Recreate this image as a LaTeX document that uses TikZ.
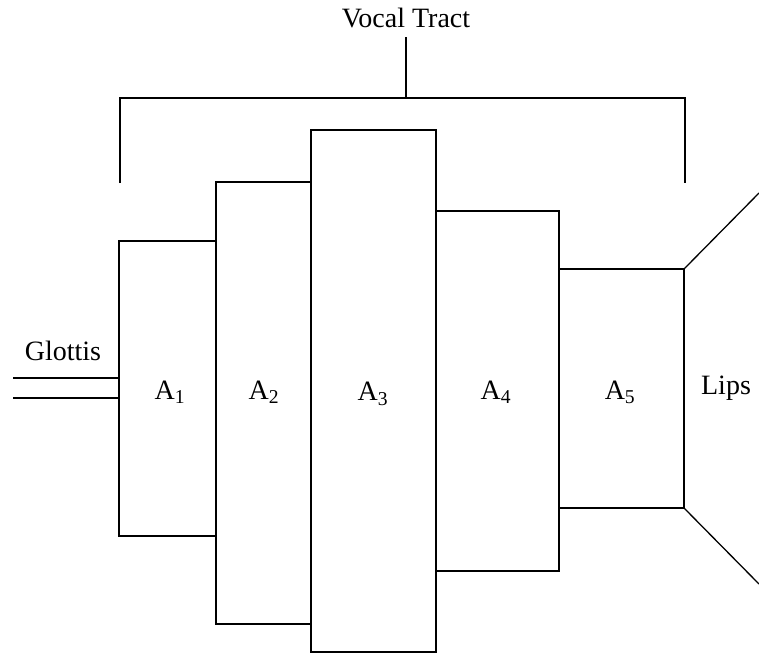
\documentclass[tikz,border=0pt]{standalone}
\usepackage{fontspec}
\setmainfont{Liberation Serif}
\begin{document}
\begin{tikzpicture}[x=1pt,y=-1pt,line width=1.3pt,
  lbl/.style={inner sep=0pt,font=\fontsize{28}{32}\selectfont}]
\useasboundingbox (0,0) rectangle (759,654);
% tube sections
\draw (119,241) rectangle (216,536);
\draw (216,182) rectangle (311,624);
\draw (311,130) rectangle (436,652);
\draw (436,211) rectangle (559,571);
\draw (559,269) rectangle (684,508);
% lips
\coordinate (lt) at (684,269);
\coordinate (lb) at (684,508);
\coordinate (lte) at (759,193);
\coordinate (lbe) at (759,584);
\draw (lt) -- (lte);
\draw (lb) -- (lbe);
% glottis
\coordinate (g1a) at (13,378); \coordinate (g1b) at (119,378);
\coordinate (g2a) at (13,398); \coordinate (g2b) at (119,398);
\draw (g1a) -- (g1b);
\draw (g2a) -- (g2b);
% bracket
\coordinate (bl) at (120,183);
\coordinate (br) at (685,183);
\coordinate (bm) at (406,98);
\coordinate (bs) at (406,37);
\draw (bl) |- (bm) -| (br);
\node[lbl] (vt) at (406,18) {Vocal Tract};
\draw (bm) -- (bs);
% labels
\node[lbl] (glot) at (63,351) {Glottis};
\node[lbl] (a1) at (170,392) {A\textsubscript{1}};
\node[lbl] (a2) at (264,392) {A\textsubscript{2}};
\node[lbl] (a3) at (373,394) {A\textsubscript{3}};
\node[lbl] (a4) at (496,392) {A\textsubscript{4}};
\node[lbl] (a5) at (620,392) {A\textsubscript{5}};
\node[lbl] (lips) at (726,388) {Lips};
\end{tikzpicture}
\end{document}
